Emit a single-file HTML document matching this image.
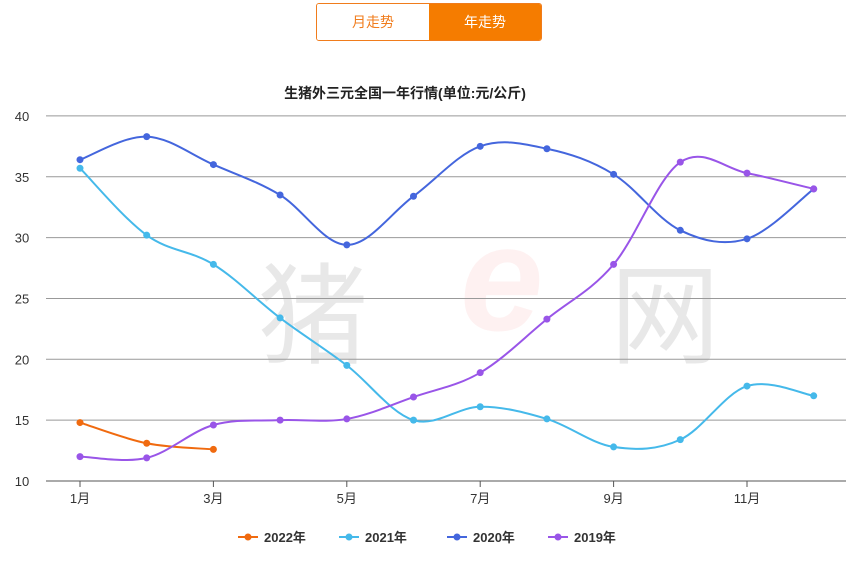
<!DOCTYPE html>
<html><head><meta charset="utf-8"><style>
body{margin:0;background:#fff;width:862px;height:565px;overflow:hidden;font-family:"Liberation Sans","Noto Sans CJK SC",sans-serif;}
#tabs{position:absolute;left:316px;top:3px;width:226px;height:38px;border:1px solid #f07c1c;border-radius:3px;display:flex;box-sizing:border-box;overflow:hidden}
#tabs div{flex:1;text-align:center;line-height:36px;font-size:14px}
</style></head><body>
<div id="tabs">
<div style="color:#f07c1c;background:#fff">月走势</div>
<div style="color:#fff;background:#f57c00">年走势</div>
</div>
<svg id="c" width="862" height="565" style="position:absolute;left:0;top:0"></svg>
<script>
const months=[1,2,3,4,5,6,7,8,9,10,11,12];
const xLabels=["1月","3月","5月","7月","9月","11月"];
const yTicks=[10,15,20,25,30,35,40];
const names=["2022年","2021年","2020年","2019年"];
const colors=["#f06a0f","#45b9ea","#4466dd","#9955e8"];
const s2022=[14.8,13.1,12.6];
const s2021=[35.7,30.2,27.8,23.4,19.5,15.0,16.1,15.1,12.8,13.4,17.8,17.0];
const s2020=[36.4,38.3,36.0,33.5,29.4,33.4,37.5,37.3,35.2,30.6,29.9,34.0];
const s2019=[12.0,11.9,14.6,15.0,15.1,16.9,18.9,23.3,27.8,36.2,35.3,34.0];
const series=[s2022,s2021,s2020,s2019];
const NS="http://www.w3.org/2000/svg";
const svg=document.getElementById('c');
const X=m=>80+(m-1)*66.7, Y=v=>481-(v-10)*12.17;
function el(t,a,p){const e=document.createElementNS(NS,t);for(const k in a)e.setAttribute(k,a[k]);(p||svg).appendChild(e);return e;}
let w=el('text',{x:258,y:355,'font-size':110,fill:'#000','fill-opacity':0.09});w.textContent='猪';

w=el('text',{x:610,y:355,'font-size':110,fill:'#000','fill-opacity':0.09});w.textContent='网';

w=el('text',{x:460,y:330,'font-size':150,'font-style':'italic','font-weight':'bold',fill:'#f05050','fill-opacity':0.08});w.textContent='e';

let t=el('text',{x:405,y:98,'font-size':14,'font-weight':'bold','text-anchor':'middle',fill:'#222'});t.textContent='生猪外三元全国一年行情(单位:元/公斤)';

yTicks.forEach(v=>{let l=el('line',{x1:46,x2:846,y1:Y(v),y2:Y(v),stroke:v==10?'#555':'#999','stroke-width':1});

let tx=el('text',{x:22,y:Y(v)+5,'font-size':13,'text-anchor':'middle',fill:'#333'});tx.textContent=v;
});
xLabels.forEach((s,i)=>{const m=1+i*2;let l=el('line',{x1:X(m),x2:X(m),y1:481,y2:487,stroke:'#555'});

let tx=el('text',{x:X(m),y:503,'font-size':13,'text-anchor':'middle',fill:'#333'});tx.textContent=s;
});
function path(pts){let d='M'+pts[0][0]+','+pts[0][1];for(let i=0;i<pts.length-1;i++){const p0=pts[i-1]||pts[i],p1=pts[i],p2=pts[i+1],p3=pts[i+2]||p2;const k=0.17;
d+=` C${p1[0]+(p2[0]-p0[0])*k},${p1[1]+(p2[1]-p0[1])*k} ${p2[0]-(p3[0]-p1[0])*k},${p2[1]-(p3[1]-p1[1])*k} ${p2[0]},${p2[1]}`;}return d;}
series.forEach((s,si)=>{const pts=s.map((v,i)=>[X(months[i]),Y(v)]);
let p=el('path',{d:path(pts),fill:'none',stroke:colors[si],'stroke-width':2});

pts.forEach(q=>{let c=el('circle',{cx:q[0],cy:q[1],r:3.5,fill:colors[si]});
});});
const lx=[238,339,447,548];
names.forEach((n,i)=>{let g=el('g',{});
el('line',{x1:lx[i],x2:lx[i]+20,y1:537,y2:537,stroke:colors[i],'stroke-width':2},g);
el('circle',{cx:lx[i]+10,cy:537,r:3.5,fill:colors[i]},g);
let tx=el('text',{x:lx[i]+26,y:542,'font-size':13,'font-weight':'bold',fill:'#333'},g);tx.textContent=n;});
</script></body></html>
